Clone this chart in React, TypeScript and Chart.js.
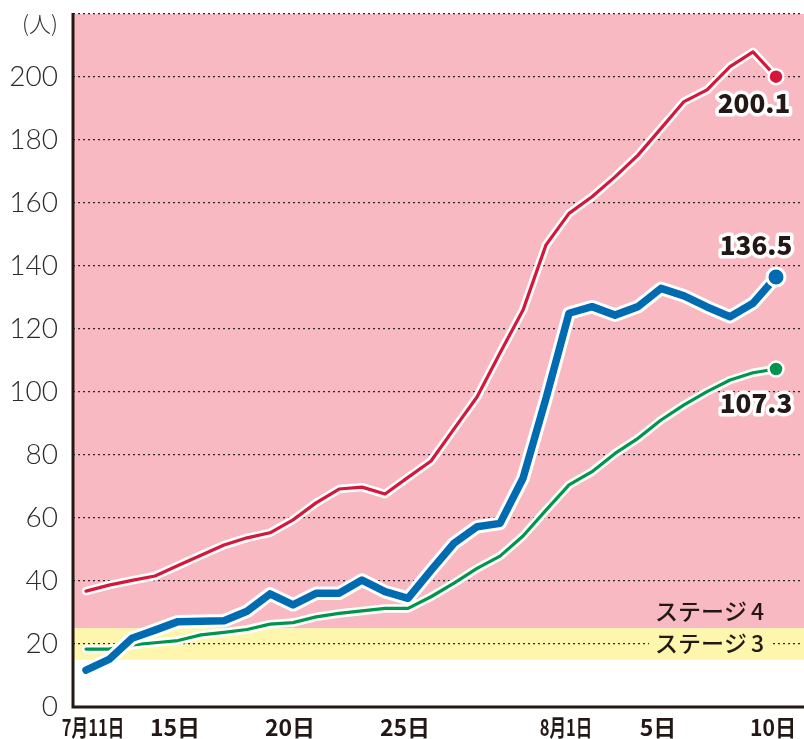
import React, { useEffect, useRef } from 'react';
import { Chart, registerables } from 'chart.js';

Chart.register(...registerables);

// 7/11 .. 8/10
const dates = [
  '7/11','7/12','7/13','7/14','7/15','7/16','7/17','7/18','7/19','7/20',
  '7/21','7/22','7/23','7/24','7/25','7/26','7/27','7/28','7/29','7/30',
  '7/31','8/1','8/2','8/3','8/4','8/5','8/6','8/7','8/8','8/9','8/10',
];

const redSeries = [36.8, 38.7, 40.2, 41.6, 44.9, 48.2, 51.4, 53.7, 55.3, 59.4, 64.8, 69.2, 69.8, 67.6, 72.9, 78.1, 88.3, 98.4, 112.4, 126.0, 146.7, 156.7, 162.0, 168.3, 175.2, 183.7, 192.2, 195.9, 203.3, 208.0, 200.1];
const blueSeries = [11.7, 15.1, 21.8, 24.4, 27.1, 27.2, 27.4, 30.4, 35.9, 32.4, 36.1, 36.1, 40.3, 36.6, 34.5, 43.4, 52.0, 57.2, 58.3, 72.6, 98.0, 125.0, 127.1, 124.4, 127.1, 132.9, 130.5, 127.0, 123.9, 128.2, 136.5];
const greenSeries = [18.4, 18.4, 19.7, 20.4, 21.1, 22.9, 23.7, 24.6, 26.3, 26.8, 28.6, 29.7, 30.5, 31.3, 31.3, 35.0, 39.3, 44.0, 47.9, 54.3, 62.5, 70.5, 74.7, 80.5, 85.3, 91.1, 95.9, 100.1, 103.8, 106.1, 107.3];

const xTickIndex = [0, 4, 9, 14, 21, 25, 30];
const xTickLabels = ['7月11日', '15日', '20日', '25日', '8月1日', '5日', '10日'];

const yMin = 0;
const yMax = 220;
const yStep = 10;
const yLabelStep = 20;
const yUnitLabel = '(人)';

const stage4Min = 25;
const stage3Min = 15;
const stage4Label = 'ステージ4';
const stage3Label = 'ステージ3';

const PINK = '#F8B9C3';
const YELLOW = '#FFF6AE';
const RED = '#D7163B';
const BLUE = '#006BB0';
const GREEN = '#00954A';
const INK = '#231815';

const toPoints = (arr: number[]) => arr.map((v, i) => ({ x: i, y: v }));
const lastOnly = (arr: number[], r: number) => arr.map((_, i) => (i === arr.length - 1 ? r : 0));

const decorPlugin = {
  id: 'decor',
  beforeDraw(chart: any) {
    const { ctx, chartArea: a, scales } = chart;
    const y = scales.y;
    ctx.save();
    const p4 = y.getPixelForValue(stage4Min);
    const p3 = y.getPixelForValue(stage3Min);
    ctx.fillStyle = PINK;
    ctx.fillRect(a.left, a.top, chart.width - a.left, p4 - a.top);
    ctx.fillStyle = YELLOW;
    ctx.fillRect(a.left, p4, chart.width - a.left, p3 - p4);
    ctx.restore();
  },
  beforeDatasetsDraw(chart: any) {
    const { ctx, chartArea: a, scales } = chart;
    const y = scales.y;
    ctx.save();
    ctx.font = '500 23px "Noto Sans CJK JP"';
    ctx.textAlign = 'left';
    ctx.textBaseline = 'middle';
    const items = [
      { t: stage4Label, v: 30, bg: PINK },
      { t: stage3Label, v: 20, bg: YELLOW },
    ];
    for (const it of items) {
      const py = y.getPixelForValue(it.v) - 1;
      const lx = a.left + 582;
      const body = it.t.slice(0, -1);
      const num = it.t.slice(-1);
      const w1 = ctx.measureText(body).width;
      const w2 = ctx.measureText(num).width;
      const w = w1 + 4 + w2;
      ctx.fillStyle = it.bg;
      ctx.fillRect(lx - 6, py - 5, w + 12, 10);
      ctx.fillStyle = INK;
      ctx.fillText(body, lx, py);
      ctx.fillText(num, lx + w1 + 4, py);
    }
    ctx.restore();
  },
  afterDraw(chart: any) {
    const { ctx, chartArea: a, scales } = chart;
    const x = scales.x;
    ctx.save();
    // axes
    ctx.strokeStyle = INK;
    ctx.lineWidth = 3;
    ctx.beginPath();
    ctx.moveTo(a.left, a.top - 1);
    ctx.lineTo(a.left, a.bottom);
    ctx.lineTo(chart.width, a.bottom);
    ctx.stroke();

    // unit label
    ctx.fillStyle = '#333';
    ctx.font = '300 22px "Noto Sans CJK JP"';
    ctx.textAlign = 'center';
    ctx.textBaseline = 'middle';
    ctx.fillText(yUnitLabel, 40, a.top + 10);

    // x labels
    ctx.fillStyle = INK;
    ctx.font = 'bold 23px "Noto Sans CJK JP"';
    xTickIndex.forEach((idx, k) => {
      const label = xTickLabels[k];
      let px = x.getPixelForValue(idx) - 3;
      let sx = 1;
      if (label.includes('月')) sx = 0.72;
      else if (k === xTickIndex.length - 1) sx = 0.92;
      if (k === 0) px += 10;
      ctx.save();
      ctx.translate(px, a.bottom + 20);
      ctx.scale(sx, 1);
      ctx.fillText(label, 0, 0);
      ctx.restore();
    });

    // end value labels
    const ends = [
      { data: redSeries, dx: -22, dy: 26 },
      { data: blueSeries, dx: -20, dy: -32 },
      { data: greenSeries, dx: -20, dy: 34 },
    ];
    const y = scales.y;
    ctx.font = '900 26px "Noto Sans CJK JP"';
    ctx.textAlign = 'center';
    ctx.lineJoin = 'round';
    for (const e of ends) {
      const i = e.data.length - 1;
      const px = x.getPixelForValue(i) + e.dx;
      const py = y.getPixelForValue(e.data[i]) + e.dy;
      const t = e.data[i].toFixed(1);
      ctx.strokeStyle = '#fff';
      ctx.lineWidth = 7;
      ctx.strokeText(t, px, py);
      ctx.fillStyle = INK;
      ctx.fillText(t, px, py);
    }
    ctx.restore();
  },
};

function lineSet(data: number[], color: string, width: number, haloWidth: number, dotR: number, dotB: number, order: number) {
  return [
    {
      data: toPoints(data),
      borderColor: '#fff',
      backgroundColor: '#fff',
      borderWidth: haloWidth,
      pointRadius: 0,
      borderJoinStyle: 'round' as const,
      borderCapStyle: 'round' as const,
      tension: 0,
      clip: false,
      order: order + 1,
    },
    {
      data: toPoints(data),
      borderColor: color,
      backgroundColor: color,
      borderWidth: width,
      pointRadius: lastOnly(data, dotR),
      pointBorderColor: '#fff',
      pointBorderWidth: dotB,
      pointBackgroundColor: color,
      borderJoinStyle: 'round' as const,
      borderCapStyle: 'round' as const,
      tension: 0,
      clip: false,
      order: order,
    },
  ];
}

export default function App() {
  const ref = useRef<HTMLCanvasElement | null>(null);
  useEffect(() => {
    if (!ref.current) return;
    const chart = new Chart(ref.current, {
      type: 'line',
      data: {
        labels: dates,
        datasets: [
          ...lineSet(greenSeries, GREEN, 3.2, 8.5, 7.5, 2.5, 5),
          ...lineSet(blueSeries, BLUE, 7.5, 13.5, 9, 3, 3),
          ...lineSet(redSeries, RED, 3.2, 8.5, 7.5, 2.5, 1),
        ] as any,
      },
      options: {
        responsive: false,
        animation: false,
        events: [],
        layout: { autoPadding: false, padding: { top: 14, right: 2, bottom: 32, left: 0 } },
        plugins: { legend: { display: false }, tooltip: { enabled: false } },
        scales: {
          x: {
            type: 'linear',
            min: -0.566,
            max: 31.13,
            grid: { display: false },
            border: { display: false },
            ticks: { display: false },
            afterFit: (s: any) => { s.height = 0; s.paddingLeft = 0; s.paddingRight = 0; },
          },
          y: {
            min: yMin,
            max: yMax,
            afterFit: (s: any) => { s.width = 73; s.paddingTop = 0; s.paddingBottom = 0; },
            border: { display: false, dash: [2, 3] },
            grid: {
              drawTicks: false,
              lineWidth: (c: any) => (c.tick && c.tick.value === 10 ? 1.5 : 1.2),
              color: (c: any) => {
                const v = c.tick ? c.tick.value : -1;
                if (v === 0) return 'rgba(0,0,0,0)';
                if (v < stage3Min) return '#8a8a8a';
                return '#2a2a2a';
              },
            },
            ticks: {
              stepSize: yStep,
              padding: 15,
              color: '#2b2b2b',
              font: { family: 'Lato', size: 28, weight: '300' as any },
              callback: (v: any) => (v % yLabelStep === 0 && v !== yMax ? String(v) : ''),
            },
          },
        },
      },
      plugins: [decorPlugin],
    });
    return () => chart.destroy();
  }, []);
  return (
    <div style={{ position: 'absolute', left: 0, top: 0, width: 804, height: 739 }}>
      <canvas ref={ref} width={804} height={739} />
    </div>
  );
}
